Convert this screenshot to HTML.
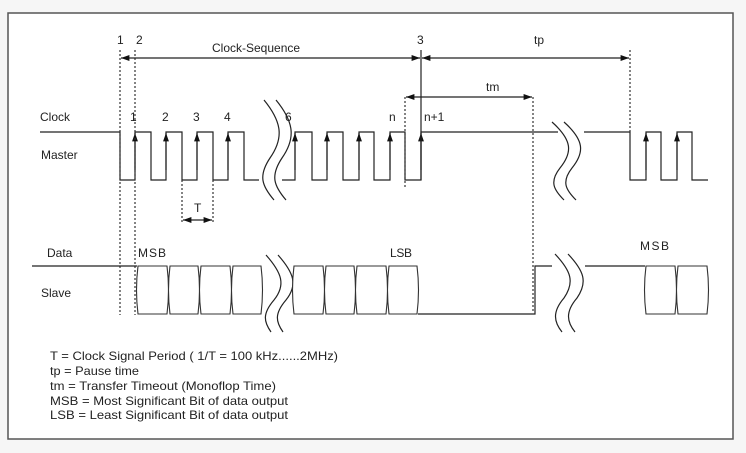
<!DOCTYPE html>
<html><head><style>
html,body{margin:0;padding:0;background:#f6f6f6;}
svg{display:block;}
text{font-family:"Liberation Sans",sans-serif;fill:#222;}
</style></head><body>
<svg width="746" height="453" viewBox="0 0 746 453" xmlns="http://www.w3.org/2000/svg">
<defs>
<marker id="ar" viewBox="0 0 10 10" refX="10" refY="5" markerWidth="7" markerHeight="7" orient="auto-start-reverse"><path d="M0,1.5 L10,5 L0,8.5 z" fill="#111"/></marker>
<marker id="up" viewBox="0 0 10 10" refX="10" refY="5" markerWidth="7" markerHeight="7" orient="auto"><path d="M0,1.5 L10,5 L0,8.5 z" fill="#111"/></marker>
</defs>
<rect x="8" y="13" width="725" height="426" fill="#fff" stroke="#555" stroke-width="1.5"/>
<g stroke="#222" stroke-width="1.2" fill="none">
<polyline points="40,132 120,132 120,180 135,180 135,132 151,132 151,180 166,180 166,132 182,132 182,180 197,180 197,132 213,132 213,180 228,180 228,132 244,132 244,180 259,180"/>
<polyline points="282,180 295,180 295,132 312,132 312,180 327,180 327,132 343,132 343,180 359,180 359,132 374,132 374,180 390,180 390,132 405,132 405,180 421,180 421,132 558,132"/>
<polyline points="584,132 630,132 630,180 646,180 646,132 661,132 661,180 677,180 677,132 692,132 692,180 708,180"/>
<g stroke-width="1.2">
<line x1="135" y1="170" x2="135" y2="133" marker-end="url(#up)"/>
<line x1="166" y1="170" x2="166" y2="133" marker-end="url(#up)"/>
<line x1="197" y1="170" x2="197" y2="133" marker-end="url(#up)"/>
<line x1="228" y1="170" x2="228" y2="133" marker-end="url(#up)"/>
<line x1="295" y1="170" x2="295" y2="133" marker-end="url(#up)"/>
<line x1="327" y1="170" x2="327" y2="133" marker-end="url(#up)"/>
<line x1="359" y1="170" x2="359" y2="133" marker-end="url(#up)"/>
<line x1="390" y1="170" x2="390" y2="133" marker-end="url(#up)"/>
<line x1="421" y1="170" x2="421" y2="133" marker-end="url(#up)"/>
<line x1="646" y1="170" x2="646" y2="133" marker-end="url(#up)"/>
<line x1="677" y1="170" x2="677" y2="133" marker-end="url(#up)"/>
</g>
<g stroke-dasharray="2,2" stroke="#333">
<line x1="120" y1="50" x2="120" y2="315"/>
<line x1="135" y1="50" x2="135" y2="315"/>
<line x1="630" y1="50" x2="630" y2="132"/>
<line x1="405" y1="97" x2="405" y2="188"/>
<line x1="533" y1="97" x2="533" y2="312"/>
<line x1="182" y1="180" x2="182" y2="224"/>
<line x1="213" y1="180" x2="213" y2="224"/>
</g>
<line x1="421" y1="50" x2="421" y2="180"/>
<line x1="121" y1="58" x2="420" y2="58" marker-start="url(#ar)" marker-end="url(#ar)"/>
<line x1="422" y1="58" x2="629" y2="58" marker-start="url(#ar)" marker-end="url(#ar)"/>
<line x1="406" y1="97" x2="532" y2="97" marker-start="url(#ar)" marker-end="url(#ar)"/>
<line x1="183" y1="220" x2="212" y2="220" marker-start="url(#ar)" marker-end="url(#ar)"/>
<path d="M264,100 C282,122 284,138 270,158 C258,176 262,186 274,200"/>
<path d="M276,100 C294,122 296,138 282,158 C270,176 274,186 286,200"/>
<path d="M552,122 C572,140 573,152 560,168 C549,182 554,190 564,200"/>
<path d="M564,122 C584,140 585,152 572,168 C561,182 566,190 576,200"/>
<path d="M266,255 C282,273 286,285 274,300 C262,314 264,322 271,332"/>
<path d="M278,255 C294,273 298,285 286,300 C274,314 276,322 283,332"/>
<path d="M555,254 C571,271 575,282 564,298 C552,312 554,322 562,332"/>
<path d="M568,254 C584,271 588,282 577,298 C565,312 567,322 575,332"/>
<polyline points="32,266 137,266"/>
<polyline points="418,314 535,314 535,266 552,266"/>
<polyline points="585,266 645,266"/>
</g>
<g stroke="#333" stroke-width="1.1" fill="#fff">
<path d="M138,266 H167 Q170,290 167,314 H138 Q135,290 138,266 Z"/>
<path d="M170,266 H198 Q201,290 198,314 H170 Q167,290 170,266 Z"/>
<path d="M201,266 H230 Q233,290 230,314 H201 Q198,290 201,266 Z"/>
<path d="M233,266 H261 Q264,290 261,314 H233 Q230,290 233,266 Z"/>
<path d="M294,266 H323 Q326,290 323,314 H294 Q291,290 294,266 Z"/>
<path d="M326,266 H354 Q357,290 354,314 H326 Q323,290 326,266 Z"/>
<path d="M357,266 H386 Q389,290 386,314 H357 Q354,290 357,266 Z"/>
<path d="M389,266 H417 Q420,290 417,314 H389 Q386,290 389,266 Z"/>
<path d="M646,266 H675 Q678,290 675,314 H646 Q643,290 646,266 Z"/>
<path d="M678,266 H707 Q710,290 707,314 H678 Q675,290 678,266 Z"/>
</g>
<g font-size="12">
<text x="117" y="44">1</text>
<text x="136" y="44">2</text>
<text x="212" y="52">Clock-Sequence</text>
<text x="417" y="44">3</text>
<text x="534" y="44">tp</text>
<text x="486" y="91">tm</text>
<text x="40" y="121">Clock</text>
<text x="41" y="159">Master</text>
<text x="130" y="121">1</text>
<text x="162" y="121">2</text>
<text x="193" y="121">3</text>
<text x="224" y="121">4</text>
<text x="285" y="121">6</text>
<text x="389" y="121">n</text>
<text x="424" y="121">n+1</text>
<text x="194" y="212">T</text>
<text x="47" y="257">Data</text>
<text x="41" y="297">Slave</text>
<text x="138" y="257" textLength="28">MSB</text>
<text x="390" y="257" textLength="22">LSB</text>
<text x="640" y="250" textLength="29">MSB</text>
</g>
<g font-size="12">
<text x="50" y="360" textLength="288" lengthAdjust="spacingAndGlyphs">T = Clock Signal Period ( 1/T = 100 kHz......2MHz)</text>
<text x="50" y="375" textLength="89" lengthAdjust="spacingAndGlyphs">tp = Pause time</text>
<text x="50" y="390" textLength="226" lengthAdjust="spacingAndGlyphs">tm = Transfer Timeout (Monoflop Time)</text>
<text x="50" y="405" textLength="238" lengthAdjust="spacingAndGlyphs">MSB = Most Significant Bit of data output</text>
<text x="50" y="419" textLength="238" lengthAdjust="spacingAndGlyphs">LSB = Least Significant Bit of data output</text>
</g>
</svg>
</body></html>
